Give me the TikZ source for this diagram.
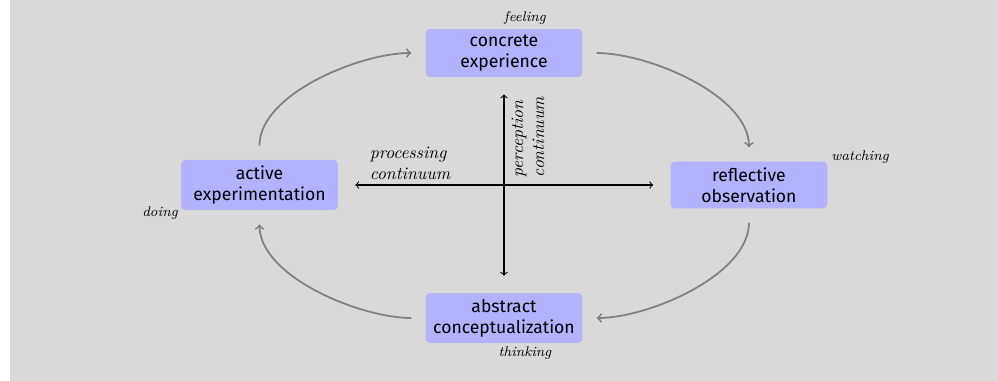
\documentclass[tikz,border=0pt]{standalone}
\usepackage{fontspec}
\setsansfont{Fira Sans}

\begin{document}
\begin{tikzpicture}[
    stage/.style={fill=blue!30, rounded corners=2.5pt, text width=2.9cm, align=center, minimum height=0.9cm, font=\sffamily},
    mode/.style={font=\footnotesize\itshape},
    turn/.style={->, gray, line width=1pt, shorten <=0.28cm, shorten >=0.28cm},
    axis/.style={<->, semithick, shorten <=0.34cm, shorten >=0.34cm}
]
    % Background
    \useasboundingbox (-10.08,-3.92) rectangle (9.88,3.7);
    \fill[gray!30] (-9.88,-3.92) rectangle (9.88,3.7);

    % Stages of the cycle
    \node[stage] (concrete) at (0,2.64) {concrete\\experience};
    \node[stage] (reflective) at (4.9,0) {reflective\\observation};
    \node[stage] (abstract) at (0,-2.66) {abstract\\conceptualization};
    \node[stage] (active) at (-4.89,0) {active\\experimentation};

    % Modes
    \node[mode] (feeling) at (0.42,3.34) {feeling};
    \node[mode] (watching) at (7.12,0.56) {watching};
    \node[mode] (thinking) at (0.42,-3.36) {thinking};
    \node[mode] (doing) at (-6.88,-0.56) {doing};

    % Cycle arrows
    \draw[turn] (active.north) to[out=90, in=180, looseness=0.85] (concrete.west);
    \draw[turn] (concrete.east) to[out=0, in=90, looseness=0.85] (reflective.north);
    \draw[turn] (reflective.south) to[out=270, in=0, looseness=0.85] (abstract.east);
    \draw[turn] (abstract.west) to[out=180, in=270, looseness=0.85] (active.south);

    % Continua
    \draw[axis] (active) -- (reflective);
    \draw[axis] (concrete) -- (abstract);
    \node[align=left, font=\itshape] (processing) at (-1.88,0.44) {processing\\continuum};
    \node[align=left, font=\itshape, rotate=90] (perception) at (0.48,0.96) {perception\\continuum};
\end{tikzpicture}
\end{document}
